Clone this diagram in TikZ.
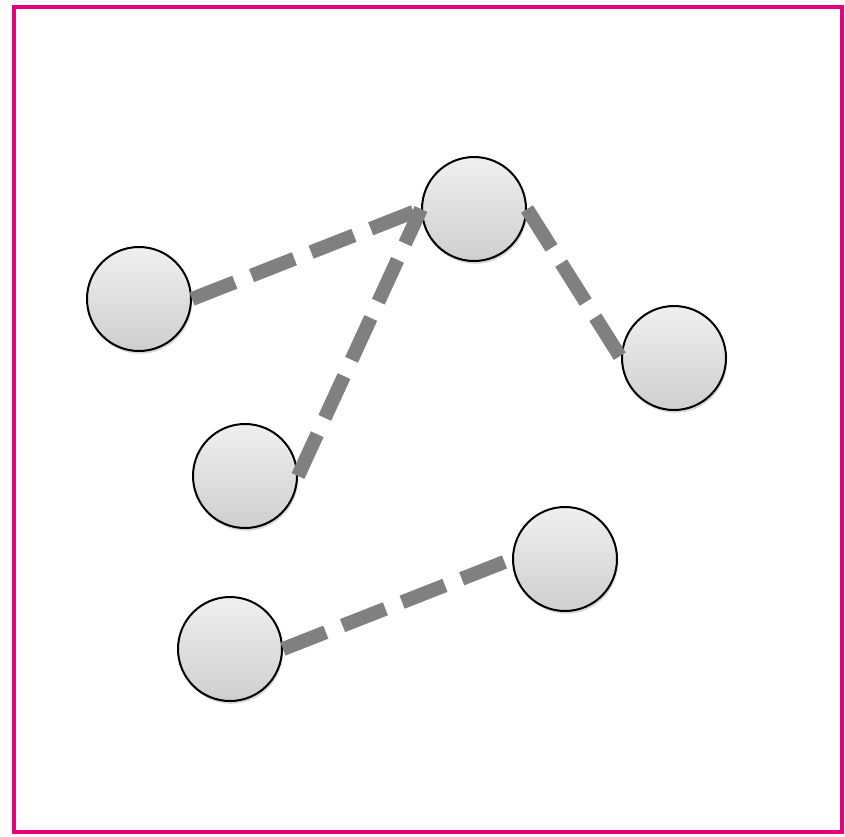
\documentclass[tikz,border=0pt]{standalone}
\usetikzlibrary{shadows}
\tikzset{
  ball/.style={circle,draw=black,line width=1pt,minimum size=52pt,inner sep=0pt,
    top color=gray!12,bottom color=gray!38,
    drop shadow={opacity=0.3,shadow xshift=0.6pt,shadow yshift=-1.4pt}},
  link/.style={draw=gray,line width=7pt,dash pattern=on 23pt off 9pt}
}
\begin{document}
\begin{tikzpicture}[x=0.5pt,y=-0.5pt]
  \useasboundingbox (0,0) rectangle (845,836);
  \draw[line width=2pt,draw={rgb,255:red,230;green,0;blue,126}] (13.5,6.5) rectangle (841.5,831.5);
  % balls
  \node[ball] (a) at (139,299) {};
  \node[ball] (b) at (474,209) {};
  \node[ball] (c) at (674,358) {};
  \node[ball] (d) at (245,476) {};
  \node[ball] (e) at (565,559) {};
  \node[ball] (f) at (230,649) {};
  % links
  \draw[link] (a.east) -- (b.west);
  \draw[link] (d.east) -- (b.west);
  \draw[link] (b.east) -- (c.west);
  \draw[link] (f.east) -- (e.west);
\end{tikzpicture}
\end{document}
